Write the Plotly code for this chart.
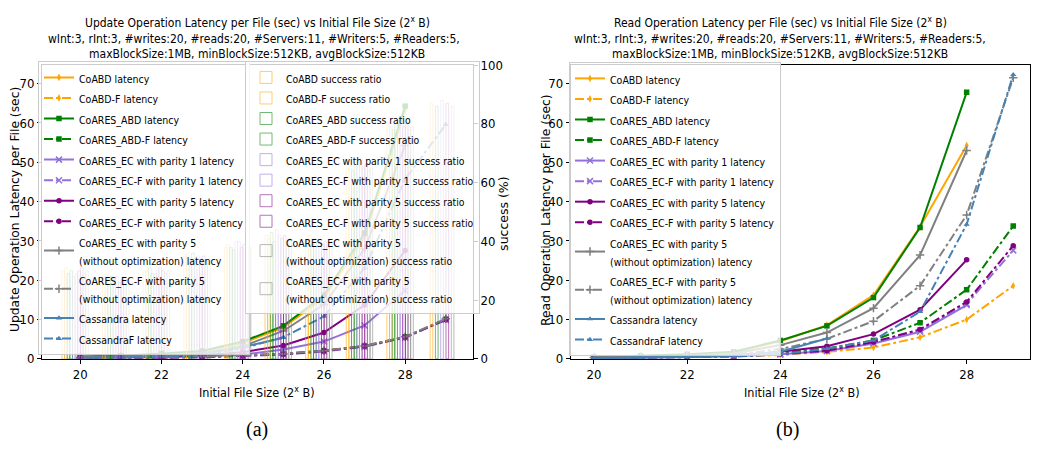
import plotly.graph_objects as go

# ---------------- data ----------------
xs = [20, 21, 22, 23, 24, 25, 26, 27, 28, 29]
N = None

# Update operation latency (left panel)
upd_coabd   = [0.5, 0.7, 1.1, 1.8, 4.0, 8.0, 15.5, 31.0, 63.3, N]
upd_coabd_f = [0.2, 0.3, 0.4, 0.5, 0.8, 1.2, 2.0, 3.2, 5.5, 10.0]
upd_abd     = [0.6, 0.8, 1.4, 2.0, 4.4, 8.4, 16.2, 32.0, 64.3, N]
upd_abd_f   = [0.2, 0.3, 0.4, 0.5, 0.9, 1.3, 2.1, 3.3, 5.6, 10.1]
upd_ec1     = [0.2, 0.3, 0.4, 0.6, 1.1, 2.4, 4.4, 8.5, 17.4, N]
upd_ec1_f   = [0.1, 0.2, 0.3, 0.4, 0.7, 1.1, 1.9, 3.1, 5.4, 9.9]
upd_ec5     = [0.3, 0.4, 0.6, 0.9, 1.7, 3.4, 6.7, 13.7, 27.6, N]
upd_ec5_f   = [0.2, 0.2, 0.3, 0.5, 0.8, 1.2, 2.0, 3.2, 5.5, 10.0]
upd_ec5w    = [0.4, 0.6, 0.9, 1.5, 3.2, 7.1, 13.8, 28.0, 54.3, N]
upd_ec5w_f  = [0.2, 0.3, 0.4, 0.6, 0.9, 1.3, 2.1, 3.3, 5.6, 10.2]
upd_cas     = [0.3, 0.4, 0.7, 1.2, 3.0, 5.4, N, N, N, N]
upd_cas_f   = [0.2, 0.3, 0.5, 0.9, 2.7, 5.5, 10.8, 23.1, 45.7, 59.6]

# Update success ratio (%) (left panel, right axis)
sr_coabd   = [30, 28, 30, 35, 38, 42, 40, 65, 80, N]
sr_coabd_f = [31, 29, 30, 36, 39, 41, 42, 66, 79, 87]
sr_abd     = [29, 27, 31, 34, 38, 43, 39, 64, 78, N]
sr_abd_f   = [30, 28, 29, 36, 37, 40, 41, 66, 80, 86]
sr_ec1     = [28, 27, 29, 33, 40, 44, 38, 67, 81, N]
sr_ec1_f   = [29, 28, 30, 35, 40, 42, 40, 68, 82, 88]
sr_ec5     = [30, 26, 31, 34, 38, 41, 39, 65, 79, N]
sr_ec5_f   = [31, 27, 30, 35, 39, 42, 40, 66, 80, 87]
sr_ec5w    = [29, 28, 29, 33, 37, 40, 38, 64, 78, N]
sr_ec5w_f  = [30, 27, 30, 34, 38, 41, 40, 65, 79, 86]

# Read operation latency (right panel)
rd_coabd   = [0.4, 0.6, 0.9, 1.5, 4.5, 8.6, 16.2, 33.6, 54.3, N]
rd_coabd_f = [0.2, 0.3, 0.4, 0.6, 1.0, 1.8, 2.9, 5.5, 10.0, 18.6]
rd_abd     = [0.5, 0.8, 1.2, 1.8, 4.7, 8.4, 15.6, 33.4, 67.8, N]
rd_abd_f   = [0.3, 0.4, 0.6, 0.9, 1.6, 2.7, 4.7, 9.2, 17.6, 33.8]
rd_ec1     = [0.2, 0.3, 0.5, 0.7, 1.2, 2.0, 3.9, 6.9, 13.7, N]
rd_ec1_f   = [0.2, 0.3, 0.4, 0.6, 1.1, 2.0, 4.1, 7.2, 14.0, 27.6]
rd_ec5     = [0.3, 0.4, 0.6, 0.9, 1.8, 3.2, 6.3, 12.5, 25.2, N]
rd_ec5_f   = [0.2, 0.3, 0.5, 0.7, 1.3, 2.1, 4.3, 7.5, 14.5, 28.8]
rd_ec5w    = [0.4, 0.6, 0.8, 1.4, 3.5, 6.7, 12.9, 26.4, 53.0, N]
rd_ec5w_f  = [0.3, 0.5, 0.7, 1.1, 2.5, 5.1, 9.6, 18.6, 36.6, 71.5]
rd_cas     = [0.2, 0.3, 0.5, 0.8, 1.8, 5.2, N, N, N, N]
rd_cas_f   = [0.2, 0.3, 0.4, 0.6, 1.2, 2.6, 4.7, 12.0, 34.2, 72.3]

latency_names = [
    "CoABD latency", "CoABD-F latency", "CoARES_ABD latency", "CoARES_ABD-F latency",
    "CoARES_EC with parity 1 latency", "CoARES_EC-F with parity 1 latency",
    "CoARES_EC with parity 5 latency", "CoARES_EC-F with parity 5 latency",
    "CoARES_EC with parity 5<br>(without optimization) latency",
    "CoARES_EC-F with parity 5<br>(without optimization) latency",
    "Cassandra latency", "CassandraF latency",
]
ratio_names = [
    "CoABD success ratio", "CoABD-F success ratio", "CoARES_ABD success ratio",
    "CoARES_ABD-F success ratio", "CoARES_EC with parity 1 success ratio",
    "CoARES_EC-F with parity 1 success ratio", "CoARES_EC with parity 5 success ratio",
    "CoARES_EC-F with parity 5 success ratio",
    "CoARES_EC with parity 5<br>(without optimization) success ratio",
    "CoARES_EC-F with parity 5<br>(without optimization) success ratio",
]
upd_series = [upd_coabd, upd_coabd_f, upd_abd, upd_abd_f, upd_ec1, upd_ec1_f,
              upd_ec5, upd_ec5_f, upd_ec5w, upd_ec5w_f, upd_cas, upd_cas_f]
rd_series = [rd_coabd, rd_coabd_f, rd_abd, rd_abd_f, rd_ec1, rd_ec1_f,
             rd_ec5, rd_ec5_f, rd_ec5w, rd_ec5w_f, rd_cas, rd_cas_f]
sr_series = [sr_coabd, sr_coabd_f, sr_abd, sr_abd_f, sr_ec1, sr_ec1_f,
             sr_ec5, sr_ec5_f, sr_ec5w, sr_ec5w_f]

# ---------------- styles ----------------
colors = ["#FFA500", "#FFA500", "#008000", "#008000", "#9370DB", "#9370DB",
          "#800080", "#800080", "#808080", "#808080", "#4682B4", "#4682B4"]
dashes = ["solid", "dashdot"] * 6
symbols = ["diamond-tall", "diamond-tall", "square", "square", "x-thin", "x-thin",
           "circle", "circle", "cross-thin", "cross-thin", "triangle-up", "triangle-up"]

W, H = 1039, 451
def px(x): return x / W
def py(y): return 1 - y / H

NARROW = "Liberation Sans Narrow, Arial Narrow, DejaVu Sans Condensed, sans-serif"
DEJAVU = "DejaVu Sans, sans-serif"

def small(t, size):
    return "<br>".join(f"<span style='font-size:{size}px'>{p}</span>" for p in t.split("<br>"))

fig = go.Figure()

# success ratio bars (left panel, secondary axis)
bar_w = 0.065
for i, (name, vals) in enumerate(zip(ratio_names, sr_series)):
    fig.add_trace(go.Bar(
        x=xs, y=vals, name=small(name, 10.3), xaxis="x", yaxis="y2",
        width=bar_w, offset=-0.45 + i * bar_w,
        marker=dict(color="rgba(0,0,0,0)", line=dict(color=colors[i], width=1)),
        legend="legend2", opacity=0.55,
    ))

def add_lines(series, xa, ya, leg):
    for i, (name, vals) in enumerate(zip(latency_names, series)):
        thin = symbols[i] in ("x-thin", "cross-thin")
        fig.add_trace(go.Scatter(
            x=xs, y=vals, name=small(name, 10.5), xaxis=xa, yaxis=ya, mode="lines+markers",
            line=dict(color=colors[i], width=2, dash=dashes[i]),
            marker=dict(symbol=symbols[i], size=6 if thin else 5.5, color=colors[i],
                        line=dict(color=colors[i], width=1.5 if thin else 0)),
            legend=leg, connectgaps=False,
        ))

add_lines(upd_series, "x", "y", "legend")
add_lines(rd_series, "x2", "y3", "legend3")

yd = [py(364), py(60)]
tickfont = dict(family=NARROW, size=13, color="black")
axis_common = dict(showline=True, linecolor="black", linewidth=1, ticks="outside",
                   ticklen=4, tickcolor="black", showgrid=False, zeroline=False,
                   tickfont=tickfont)

legend_common = dict(bgcolor="rgba(255,255,255,0.8)", bordercolor="#cccccc", borderwidth=1,
                     font=dict(family=NARROW, size=13.5, color="black"),
                     xanchor="left", yanchor="top", tracegroupgap=0, itemwidth=30)

fig.update_layout(
    width=W, height=H, margin=dict(l=0, r=0, t=0, b=0),
    paper_bgcolor="white", plot_bgcolor="white", barmode="overlay",
    showlegend=True,
    xaxis=dict(domain=[px(42), px(473)], range=[19.06, 29.67], anchor="y",
               tickvals=[20, 22, 24, 26, 28], mirror=True, **axis_common),
    yaxis=dict(domain=yd, range=[0, 74.75], anchor="x", tickvals=list(range(0, 80, 10)),
               **axis_common),
    yaxis2=dict(range=[0, 100], overlaying="y", side="right", anchor="x",
                tickvals=list(range(0, 120, 20)), **axis_common),
    xaxis2=dict(domain=[px(570.7), px(1030)], range=[19.5, 29.36], anchor="y3",
                tickvals=[20, 22, 24, 26, 28], mirror=True, **axis_common),
    yaxis3=dict(domain=yd, range=[0, 74.75], anchor="x2", tickvals=list(range(0, 80, 10)),
                mirror=True, **axis_common),
    legend=dict(x=px(38), y=py(56), **legend_common),
    legend2=dict(x=px(245), y=py(56), **legend_common),
    legend3=dict(x=px(569), y=py(57), **legend_common),
)

anns = []
def ann(text, x, y, size=12, family=NARROW, angle=0):
    anns.append(dict(text=text, x=px(x), y=py(y), xref="paper", yref="paper",
                     showarrow=False, xanchor="center", yanchor="middle",
                     textangle=angle, font=dict(family=family, size=size, color="black")))

line2 = "wInt:3, rInt:3, #writes:20, #reads:20, #Servers:11, #Writers:5, #Readers:5,"
line3 = "maxBlockSize:1MB, minBlockSize:512KB, avgBlockSize:512KB"
ann("Update Operation Latency per File (sec) vs Initial File Size (2<sup>x</sup> B)", 257, 15)
ann(line2, 254, 33)
ann(line3, 257, 49)
ann("Read Operation Latency per File (sec) vs Initial File Size (2<sup>x</sup> B)", 780, 15)
ann(line2, 780, 33)
ann(line3, 780, 49)
ann("Initial File Size (2<sup>x</sup> B)", 257, 398, size=12.5)
ann("Initial File Size (2<sup>x</sup> B)", 802, 398, size=12.5)
ann("Update Operation Latency per File (sec)", 15, 210, size=12.3, family=DEJAVU, angle=-90)
ann("Read Operation Latency per File (sec)", 546, 210, size=12.3, family=DEJAVU, angle=-90)
ann("success (%)", 504, 214, size=12.5, family=DEJAVU, angle=-90)
ann("(a)", 257, 437, size=20, family="Liberation Serif, serif")
ann("(b)", 787, 437, size=20, family="Liberation Serif, serif")
fig.update_layout(annotations=anns)

fig.write_html("out.html")
